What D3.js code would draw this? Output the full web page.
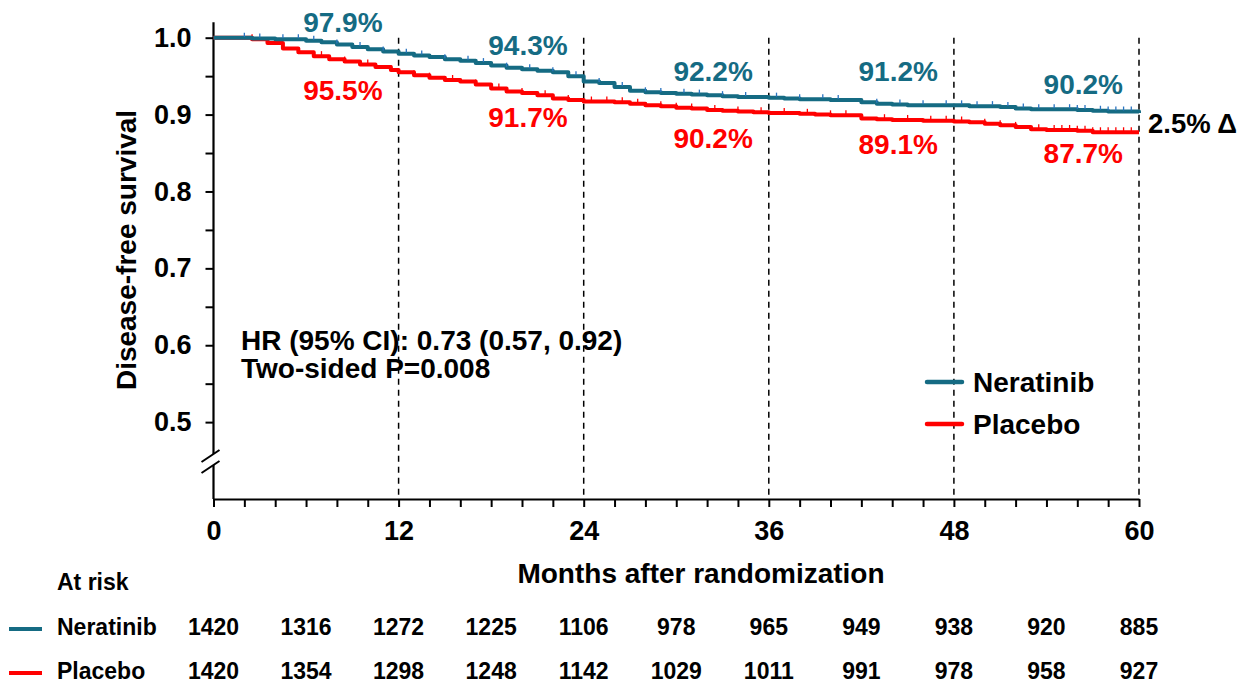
<!DOCTYPE html>
<html>
<head>
<meta charset="utf-8">
<script src="https://cdn.jsdelivr.net/npm/d3@7"></script>
<style>
  body { margin: 0; background: #fff; }
  svg { display: block; }
  text { font-family: "Liberation Sans", Arial, sans-serif; font-weight: bold; }
</style>
</head>
<body>
<svg id="chart" width="1247" height="686"></svg>
<script>
// Kaplan-Meier estimates: [month, disease-free survival]
const neratinibCurve = [
  [0, 1.000], [1.5, 1.000], [2.5, 0.999], [4, 0.998], [6, 0.996], [7, 0.994],
  [8, 0.991], [9, 0.988], [10, 0.985], [11, 0.982], [12, 0.979], [13, 0.977],
  [14, 0.975], [15, 0.972], [16, 0.970], [17, 0.967], [18, 0.964], [19, 0.961],
  [20, 0.959], [21, 0.957], [22, 0.955], [23, 0.950], [24, 0.943], [25, 0.941],
  [26, 0.936], [27, 0.931], [28, 0.929], [29, 0.928], [30, 0.927], [31, 0.926],
  [32, 0.925], [33, 0.924], [34, 0.923], [35, 0.923], [36, 0.922], [37, 0.921],
  [38, 0.920], [39, 0.920], [40, 0.919], [41, 0.919], [42, 0.916], [43, 0.914],
  [44, 0.913], [45, 0.912], [46, 0.912], [47, 0.912], [48, 0.912], [49, 0.911],
  [50, 0.911], [51, 0.910], [52, 0.908], [53, 0.907], [54, 0.907], [55, 0.907],
  [56, 0.906], [57, 0.905], [58, 0.904], [59, 0.904], [60, 0.902]
];
const placeboCurve = [
  [0, 1.000], [1.5, 1.000], [2.5, 0.998], [3.5, 0.993], [4.5, 0.986], [5.5, 0.981],
  [6.5, 0.976], [7.5, 0.972], [8.5, 0.969], [9.5, 0.965], [10.5, 0.962], [11.5, 0.958],
  [12, 0.955], [13, 0.951], [14, 0.948], [15, 0.945], [16, 0.943], [17, 0.939],
  [18, 0.934], [19, 0.930], [20, 0.928], [21, 0.925], [22, 0.921], [23, 0.919],
  [24, 0.917], [25, 0.917], [26, 0.916], [27, 0.914], [28, 0.912], [29, 0.911],
  [30, 0.909], [31, 0.908], [32, 0.906], [33, 0.905], [34, 0.904], [35, 0.903],
  [36, 0.902], [37, 0.902], [38, 0.901], [39, 0.900], [40, 0.899], [41, 0.899],
  [42, 0.895], [43, 0.894], [44, 0.893], [45, 0.893], [46, 0.892], [47, 0.892],
  [48, 0.891], [49, 0.890], [50, 0.888], [51, 0.886], [52, 0.884], [53, 0.881],
  [54, 0.880], [55, 0.880], [56, 0.879], [57, 0.877], [58, 0.877], [59, 0.877], [60, 0.877]
];

// Censoring times (months)
const neratinibCensored = [2, 3, 4.5, 5.5, 6.5, 8, 9.5, 11, 12.5, 13.5, 15, 16.5, 17.5, 19, 20.5,
  22, 23.5, 25, 26.5, 28, 29, 30.5, 31.5, 33, 34.5, 36.5, 38, 39.5, 40.5, 43, 44.5, 46, 47.5,
  48.5, 49.5, 50.5, 51.5, 52.5, 53.5, 54.5, 55.5, 56, 56.5, 57.5, 58, 58.5, 59, 59.5];
const placeboCensored = [2.5, 4, 5.5, 7, 8.5, 10, 11.5, 13, 14, 15.5, 17, 18.5, 20, 21.5, 23,
  24.5, 25.5, 26.5, 27.5, 29, 30, 31, 32.5, 34, 35.5, 37, 38.5, 40, 41, 43.5, 45, 46.5, 47.5,
  48.5, 50, 51, 52, 53.5, 54.5, 55, 55.5, 56, 56.5, 57, 57.5, 58, 58.5, 59, 59.5];

// Landmark estimates shown above/below the curves
const landmarkMonths = [12, 24, 36, 48, 60];
const neratinibLandmarks = [97.9, 94.3, 92.2, 91.2, 90.2];
const placeboLandmarks = [95.5, 91.7, 90.2, 89.1, 87.7];
const differenceLabel = "2.5% Δ";

// Numbers at risk
const riskMonths = [0, 6, 12, 18, 24, 30, 36, 42, 48, 54, 60];
const neratinibAtRisk = [1420, 1316, 1272, 1225, 1106, 978, 965, 949, 938, 920, 885];
const placeboAtRisk = [1420, 1354, 1298, 1248, 1142, 1029, 1011, 991, 978, 958, 927];

const yTicks = [0.5, 0.55, 0.6, 0.65, 0.7, 0.75, 0.8, 0.85, 0.9, 0.95, 1.0];
const xTicks = d3.range(0, 61, 2);
const statsLines = ["HR (95% CI): 0.73 (0.57, 0.92)", "Two-sided P=0.008"];

const TEAL = "#156b83";
const TEAL_MARK = "#2a74c0";
const RED = "#ff0000";
const FONT = '"Liberation Sans", Arial, sans-serif';

const svg = d3.select("#chart");
const x = d3.scaleLinear().domain([0, 60]).range([213.5, 1139]);
const y = d3.scaleLinear().domain([0.4, 1.0]).range([499, 37.7]);

// Vertical reference lines at yearly landmarks
svg.append("g").selectAll("line").data(landmarkMonths).join("line")
  .attr("x1", d => x(d)).attr("x2", d => x(d))
  .attr("y1", y(1.0)).attr("y2", y(0.4) - 4)
  .attr("stroke", "#000").attr("stroke-width", 1.5).attr("stroke-dasharray", "6,5");

// X axis
const xAxis = d3.axisBottom(x).tickValues(xTicks).tickSizeInner(8).tickSizeOuter(0)
  .tickPadding(14).tickFormat(d => d % 12 === 0 ? d : "");
const gx = svg.append("g").attr("transform", `translate(0,${y(0.4)})`).call(xAxis);
gx.select(".domain").attr("stroke-width", 2.2);
gx.selectAll(".tick line").attr("stroke-width", 2);
gx.selectAll("text").attr("font-size", 27).attr("fill", "#000")
  .style("font-family", FONT).style("font-weight", "bold");

// Y axis (ticks only; the spine is drawn with a break)
const yAxis = d3.axisLeft(y).tickValues(yTicks).tickSizeInner(8).tickSizeOuter(0)
  .tickPadding(14).tickFormat(d => Math.round(d * 100) % 10 === 0 ? d3.format(".1f")(d) : "");
const gy = svg.append("g").attr("transform", `translate(${x(0)},0)`).call(yAxis);
gy.select(".domain").remove();
gy.selectAll(".tick line").attr("stroke-width", 2);
gy.selectAll("text").attr("font-size", 27).attr("fill", "#000")
  .style("font-family", FONT).style("font-weight", "bold");

const breakTop = 454, breakBottom = 465;
svg.append("line").attr("x1", x(0)).attr("x2", x(0))
  .attr("y1", y(1.02)).attr("y2", breakTop).attr("stroke", "#000").attr("stroke-width", 2.2);
svg.append("line").attr("x1", x(0)).attr("x2", x(0))
  .attr("y1", breakBottom).attr("y2", y(0.4)).attr("stroke", "#000").attr("stroke-width", 2.2);
[breakTop, breakBottom].forEach(b => {
  svg.append("line")
    .attr("x1", x(0) - 12).attr("y1", b + 8)
    .attr("x2", x(0) + 6).attr("y2", b - 4)
    .attr("stroke", "#000").attr("stroke-width", 2);
});

// Axis titles
svg.append("text").attr("x", 701).attr("y", 583).attr("text-anchor", "middle")
  .attr("font-size", 28).text("Months after randomization");
svg.append("text").attr("transform", "translate(136,250) rotate(-90)")
  .attr("text-anchor", "middle").attr("font-size", 28).text("Disease-free survival");

// Survival curves
const line = d3.line().x(d => x(d[0])).y(d => y(d[1])).curve(d3.curveStepAfter);
function survivalAt(curve, t) {
  let v = curve[0][1];
  for (const p of curve) { if (p[0] <= t) v = p[1]; }
  return v;
}
const arms = [
  { curve: placeboCurve, censored: placeboCensored, color: RED, mark: RED },
  { curve: neratinibCurve, censored: neratinibCensored, color: TEAL, mark: TEAL_MARK }
];
arms.forEach(a => {
  svg.append("path").datum(a.curve).attr("d", line)
    .attr("fill", "none").attr("stroke", a.color).attr("stroke-width", 4)
    .attr("stroke-linejoin", "round");
  svg.append("g").selectAll("line").data(a.censored).join("line")
    .attr("x1", d => x(d)).attr("x2", d => x(d))
    .attr("y1", d => y(survivalAt(a.curve, d)) - 1)
    .attr("y2", d => y(survivalAt(a.curve, d)) - 5)
    .attr("stroke", a.mark).attr("stroke-width", 1.3);
});

// Landmark labels
const tealLabelBaselines = [32, 55, 81, 81, 94];
const redLabelBaselines = [100, 127, 148, 154, 163];
svg.append("g").selectAll("text").data(neratinibLandmarks).join("text")
  .attr("x", (d, i) => x(landmarkMonths[i]) - 16).attr("y", (d, i) => tealLabelBaselines[i])
  .attr("text-anchor", "end").attr("font-size", 28).attr("fill", TEAL)
  .text(d => d.toFixed(1) + "%");
svg.append("g").selectAll("text").data(placeboLandmarks).join("text")
  .attr("x", (d, i) => x(landmarkMonths[i]) - 16).attr("y", (d, i) => redLabelBaselines[i])
  .attr("text-anchor", "end").attr("font-size", 28).attr("fill", RED)
  .text(d => d.toFixed(1) + "%");
const lastN = neratinibLandmarks[neratinibLandmarks.length - 1] / 100;
const lastP = placeboLandmarks[placeboLandmarks.length - 1] / 100;
svg.append("text").attr("x", x(60) + 9).attr("y", y((lastN + lastP) / 2) + 10)
  .attr("font-size", 27.5).attr("fill", "#000").text(differenceLabel);

// Hazard ratio annotation
svg.append("g").selectAll("text").data(statsLines).join("text")
  .attr("x", 241).attr("y", (d, i) => 350 + i * 28)
  .attr("font-size", 28).attr("fill", "#000").text(d => d);

// Legend
const legendItems = [["Neratinib", TEAL], ["Placebo", RED]];
const lg = svg.append("g");
legendItems.forEach((it, i) => {
  const cy = 382 + i * 42;
  lg.append("line").attr("x1", 927).attr("x2", 962).attr("y1", cy).attr("y2", cy)
    .attr("stroke", it[1]).attr("stroke-width", 4.5).attr("stroke-linecap", "round");
  lg.append("text").attr("x", 973).attr("y", cy + 10).attr("font-size", 28).text(it[0]);
});

// Numbers at risk table
svg.append("text").attr("x", 57).attr("y", 590).attr("font-size", 23).text("At risk");
const riskRows = [["Neratinib", TEAL, neratinibAtRisk, 635], ["Placebo", RED, placeboAtRisk, 679]];
riskRows.forEach(r => {
  svg.append("line").attr("x1", 9).attr("x2", 42).attr("y1", r[3] - 6).attr("y2", r[3] - 6)
    .attr("stroke", r[1]).attr("stroke-width", 4);
  svg.append("text").attr("x", 57).attr("y", r[3]).attr("font-size", 23).text(r[0]);
  svg.append("g").selectAll("text").data(r[2]).join("text")
    .attr("x", (d, i) => x(riskMonths[i])).attr("y", r[3])
    .attr("text-anchor", "middle").attr("font-size", 23).text(d => d);
});
</script>
</body>
</html>
